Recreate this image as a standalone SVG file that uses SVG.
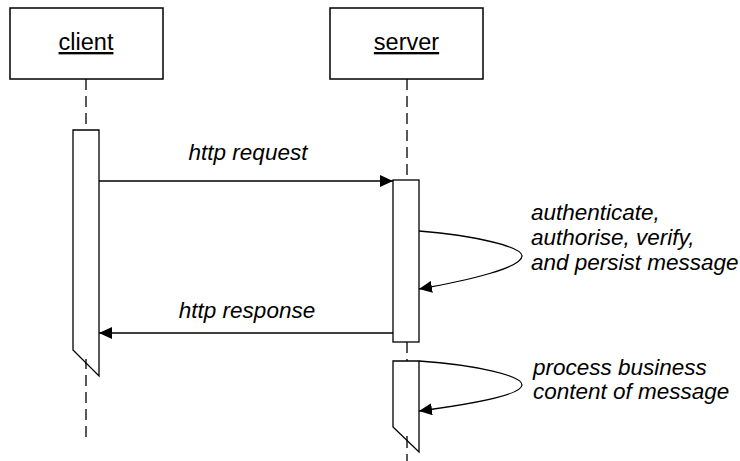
<svg xmlns="http://www.w3.org/2000/svg" width="740" height="461" viewBox="0 0 740 461">
  <style>
    .box { fill: #fff; stroke: #000; stroke-width: 1.5; }
    .act { fill: #fff; stroke: #000; stroke-width: 1.3; }
    .life { stroke: #000; stroke-width: 1.3; stroke-dasharray: 11 6; fill: none; }
    .msg { stroke: #000; stroke-width: 1.3; fill: none; marker-end: url(#arrow); }
    .name { font-family: "Liberation Sans", Arial, sans-serif; font-size: 23.5px; text-anchor: middle; text-decoration: underline; fill: #000; }
    .lbl { font-family: "Liberation Sans", Arial, sans-serif; font-size: 22.5px; font-style: italic; fill: #000; }
  </style>
  <defs>
    <marker id="arrow" markerUnits="userSpaceOnUse" markerWidth="14" markerHeight="12" refX="13" refY="6" orient="auto">
      <path d="M0,0 L13,6 L0,12 Z" fill="#000"/>
    </marker>
  </defs>
  <rect width="740" height="461" fill="#fff"/>

  <!-- lifelines -->
  <g id="lifelines">
    <line class="life" x1="86" y1="79" x2="86" y2="130"/>
    <line class="life" x1="86" y1="358" x2="86" y2="440"/>
    <line class="life" x1="407" y1="79" x2="407" y2="180"/>
    <line class="life" x1="407" y1="342" x2="407" y2="361"/>
    <line class="life" x1="407" y1="437" x2="407" y2="461"/>
  </g>

  <g id="client">
    <rect class="box" x="10" y="8" width="153" height="71"/>
    <text class="name" x="86" y="50">client</text>
    <path class="act" d="M73,130 H99 V376 L73,350 Z"/>
    <line stroke="#000" stroke-width="1.3" x1="86" y1="359" x2="86" y2="364"/>
  </g>

  <g id="server">
    <rect class="box" x="330" y="8" width="153" height="71"/>
    <text class="name" x="406.5" y="50">server</text>
    <rect class="act" x="393" y="180" width="26" height="162"/>
    <path class="act" d="M393,361 H419 V452 L393,427 Z"/>
    <line stroke="#000" stroke-width="1.3" x1="407" y1="436" x2="407" y2="441"/>
  </g>

  <!-- messages -->
  <g id="connectors">
    <path class="msg" d="M99,181 H393"/>
    <path class="msg" d="M393,333 H99"/>
    <path class="msg" d="M419,231 C478,236 522,247 522,256 C522,267 472,280 419,289"/>
    <path class="msg" d="M419,361 C478,365 522,376 522,385 C522,395 472,404 419,411"/>
  </g>

  <g id="labels">
    <text class="lbl" x="248" y="160" text-anchor="middle">http request</text>
    <text class="lbl" x="247" y="318" text-anchor="middle">http response</text>
    <text class="lbl" x="531" y="220">authenticate,</text>
    <text class="lbl" x="531" y="245">authorise, verify,</text>
    <text class="lbl" x="531" y="270">and persist message</text>
    <text class="lbl" x="533" y="375">process business</text>
    <text class="lbl" x="533" y="399">content of message</text>
  </g>
</svg>
